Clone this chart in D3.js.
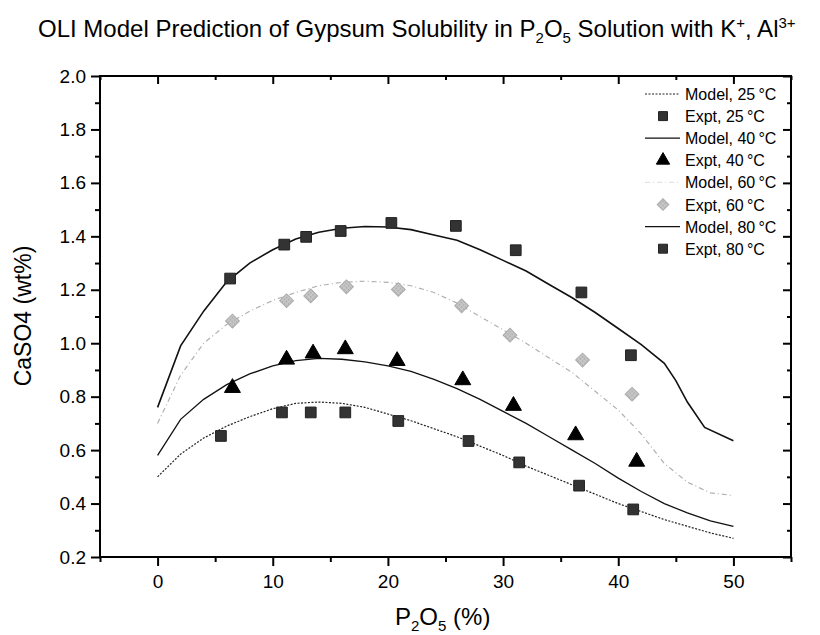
<!DOCTYPE html>
<html>
<head>
<meta charset="utf-8">
<script src="https://cdn.jsdelivr.net/npm/d3@7"></script>
<style>
  body { margin: 0; background: #fff; }
  text { font-family: "Liberation Sans", Arial, sans-serif; fill: #000; }
</style>
</head>
<body>
<div id="chart"></div>
<script>
// model curves (x = P2O5 %, y = CaSO4 wt%)
const modelX = [0, 2, 4, 6, 8, 10, 12, 14, 16, 18, 20, 22, 24, 26, 28, 30, 32, 34, 36, 38, 40, 42, 44, 46, 48, 50];
const model25 = [0.50, 0.585, 0.645, 0.69, 0.725, 0.755, 0.775, 0.78, 0.775, 0.76, 0.735, 0.71, 0.68, 0.65, 0.615, 0.58, 0.54, 0.505, 0.47, 0.435, 0.40, 0.37, 0.34, 0.315, 0.29, 0.27];
const model40 = [0.58, 0.715, 0.79, 0.845, 0.885, 0.915, 0.935, 0.943, 0.94, 0.93, 0.915, 0.895, 0.865, 0.83, 0.79, 0.745, 0.70, 0.65, 0.60, 0.55, 0.495, 0.445, 0.40, 0.365, 0.335, 0.315];
const model60 = [0.70, 0.88, 1.00, 1.07, 1.12, 1.16, 1.19, 1.215, 1.228, 1.232, 1.228, 1.215, 1.19, 1.15, 1.10, 1.05, 1.00, 0.945, 0.89, 0.82, 0.75, 0.66, 0.55, 0.48, 0.44, 0.43];
const model80X = [0, 2, 4, 6, 8, 10, 12, 14, 16, 18, 20, 22, 24, 26, 28, 30, 32, 34, 36, 38, 40, 42, 44, 45, 46, 47.5, 50];
const model80 = [0.76, 0.99, 1.12, 1.23, 1.30, 1.35, 1.39, 1.415, 1.43, 1.437, 1.435, 1.425, 1.405, 1.385, 1.35, 1.31, 1.27, 1.22, 1.17, 1.115, 1.055, 0.995, 0.925, 0.86, 0.78, 0.685, 0.635];

// experimental points
const expt25X = [5.5, 10.8, 13.3, 16.3, 20.9, 27.0, 31.4, 36.6, 41.3];
const expt25 = [0.653, 0.741, 0.741, 0.741, 0.709, 0.634, 0.554, 0.467, 0.378];
const expt40X = [6.5, 11.2, 13.5, 16.3, 20.8, 26.5, 30.9, 36.3, 41.6];
const expt40 = [0.833, 0.939, 0.962, 0.978, 0.934, 0.862, 0.766, 0.656, 0.557];
const expt60X = [6.5, 11.2, 13.3, 16.4, 20.9, 26.4, 30.6, 36.9, 41.2];
const expt60 = [1.083, 1.159, 1.177, 1.211, 1.201, 1.14, 1.03, 0.937, 0.809];
const expt80X = [6.3, 11.0, 12.9, 15.9, 20.3, 25.9, 31.1, 36.8, 41.1];
const expt80 = [1.242, 1.369, 1.398, 1.42, 1.45, 1.439, 1.348, 1.19, 0.955];

const legendLabels = ["Model, 25\u2009\u00b0C", "Expt, 25\u2009\u00b0C", "Model, 40\u2009\u00b0C", "Expt, 40\u2009\u00b0C",
                      "Model, 60\u2009\u00b0C", "Expt, 60\u2009\u00b0C", "Model, 80\u2009\u00b0C", "Expt, 80\u2009\u00b0C"];

const width = 820, height = 635;
const plotLeft = 100, plotRight = 791, plotTop = 76, plotBottom = 557;

const svg = d3.select("#chart").append("svg")
    .attr("width", width)
    .attr("height", height);

const x = d3.scaleLinear().domain([-5, 55]).range([plotLeft, plotRight]);
const y = d3.scaleLinear().domain([0.2, 2.0]).range([plotBottom, plotTop]);

// hatch pattern for the grey diamonds
const defs = svg.append("defs");
const pat = defs.append("pattern")
    .attr("id", "hatch")
    .attr("width", 3).attr("height", 3)
    .attr("patternUnits", "userSpaceOnUse");
pat.append("rect").attr("width", 3).attr("height", 3).attr("fill", "#c8c8c8");
pat.append("rect").attr("width", 1.5).attr("height", 1.5).attr("fill", "#a8a8a8");

// title
const title = svg.append("text")
    .attr("x", 38).attr("y", 37)
    .attr("font-size", 24);
title.append("tspan").text("OLI Model Prediction of Gypsum Solubility in P");
title.append("tspan").attr("font-size", 15).attr("dy", 6).text("2");
title.append("tspan").attr("dy", -6).text("O");
title.append("tspan").attr("font-size", 15).attr("dy", 6).text("5");
title.append("tspan").attr("dy", -6).text(" Solution with K");
title.append("tspan").attr("font-size", 15).attr("dy", -9).text("+");
title.append("tspan").attr("dy", 9).text(", Al");
title.append("tspan").attr("font-size", 15).attr("dy", -9).text("3+");

// axes
const xMajor = d3.range(0, 51, 10);
const xMinor = d3.range(-5, 56, 5).filter(d => !xMajor.includes(d));
const yMajor = d3.range(0.2, 2.01, 0.2).map(d => +d.toFixed(1));
const yMinor = d3.range(0.3, 2.0, 0.2).map(d => +d.toFixed(1));

function ticks(g) {
  g.select(".domain").remove();
  g.selectAll("line").attr("stroke-width", 2);
  g.selectAll("text").attr("font-size", 19).attr("font-family", "Liberation Sans, Arial, sans-serif");
}

svg.append("g")
    .attr("transform", `translate(0,${plotBottom})`)
    .call(d3.axisBottom(x).tickValues(xMajor).tickSize(9).tickPadding(9).tickFormat(d3.format("d")))
    .call(ticks);
svg.append("g")
    .attr("transform", `translate(0,${plotBottom})`)
    .call(d3.axisBottom(x).tickValues(xMinor).tickSize(5).tickFormat(""))
    .call(ticks);

svg.append("g")
    .attr("transform", `translate(${plotLeft},0)`)
    .call(d3.axisLeft(y).tickValues(yMajor).tickSize(9).tickPadding(5).tickFormat(d3.format(".1f")))
    .call(ticks);
svg.append("g")
    .attr("transform", `translate(${plotLeft},0)`)
    .call(d3.axisLeft(y).tickValues(yMinor).tickSize(5).tickFormat(""))
    .call(ticks);

// top and right: inward ticks
svg.append("g")
    .attr("transform", `translate(0,${plotTop})`)
    .call(d3.axisBottom(x).tickValues(xMajor).tickSize(8).tickFormat(""))
    .call(ticks);
svg.append("g")
    .attr("transform", `translate(0,${plotTop})`)
    .call(d3.axisBottom(x).tickValues(xMinor).tickSize(4).tickFormat(""))
    .call(ticks);
svg.append("g")
    .attr("transform", `translate(${plotRight},0)`)
    .call(d3.axisLeft(y).tickValues(yMajor).tickSize(8).tickFormat(""))
    .call(ticks);
svg.append("g")
    .attr("transform", `translate(${plotRight},0)`)
    .call(d3.axisLeft(y).tickValues(yMinor).tickSize(4).tickFormat(""))
    .call(ticks);

// frame
svg.append("rect")
    .attr("x", plotLeft).attr("y", plotTop)
    .attr("width", plotRight - plotLeft).attr("height", plotBottom - plotTop)
    .attr("fill", "none").attr("stroke", "#000").attr("stroke-width", 2);

// axis labels
const xl = svg.append("text")
    .attr("x", 395).attr("y", 625)
    .attr("font-size", 24);
xl.append("tspan").text("P");
xl.append("tspan").attr("font-size", 15).attr("dy", 6).text("2");
xl.append("tspan").attr("dy", -6).text("O");
xl.append("tspan").attr("font-size", 15).attr("dy", 6).text("5");
xl.append("tspan").attr("dy", -6).text(" (%)");

svg.append("text")
    .attr("transform", `translate(31,316) rotate(-90)`)
    .attr("text-anchor", "middle")
    .attr("font-size", 23)
    .text("CaSO4 (wt%)");

// model lines
const line = d3.line().x(d => x(d[0])).y(d => y(d[1]));
const models = [
  {xs: modelX, ys: model25, stroke: "#222", width: 1.2, dash: "2,1.5"},
  {xs: modelX, ys: model40, stroke: "#111", width: 1.3, dash: null},
  {xs: modelX, ys: model60, stroke: "#b0b0b0", width: 1.2, dash: "5,3,1,3"},
  {xs: model80X, ys: model80, stroke: "#111", width: 1.6, dash: null}
];
models.forEach(m => {
  svg.append("path")
      .datum(m.xs.map((v, i) => [v, m.ys[i]]))
      .attr("d", line)
      .attr("fill", "none")
      .attr("stroke", m.stroke)
      .attr("stroke-width", m.width)
      .attr("stroke-dasharray", m.dash);
});

// markers (diamond = square turned 45 degrees)
const shapes = {square: d3.symbolSquare, triangle: d3.symbolTriangle, diamond: d3.symbolSquare};
const expts = [
  {xs: expt25X, ys: expt25, shape: "square", size: 115, rot: 0, fill: "#333", stroke: "#222"},
  {xs: expt40X, ys: expt40, shape: "triangle", size: 110, rot: 0, fill: "#000", stroke: "#000"},
  {xs: expt60X, ys: expt60, shape: "diamond", size: 95, rot: 45, fill: "url(#hatch)", stroke: "#aaa"},
  {xs: expt80X, ys: expt80, shape: "square", size: 115, rot: 0, fill: "#333", stroke: "#222"}
];
expts.forEach(e => {
  svg.append("g").selectAll("path")
      .data(e.xs.map((v, i) => [v, e.ys[i]]))
      .join("path")
      .attr("transform", d => `translate(${x(d[0])},${y(d[1])}) rotate(${e.rot})`)
      .attr("d", d3.symbol().type(shapes[e.shape]).size(e.size))
      .attr("fill", e.fill)
      .attr("stroke", e.stroke)
      .attr("stroke-width", 1);
});

// legend
const lg = svg.append("g");
legendLabels.forEach((label, i) => {
  const cy = 94 + i * 22.1;
  const k = Math.floor(i / 2);
  if (i % 2 === 0) {
    const m = models[k];
    lg.append("line")
        .attr("x1", 645).attr("x2", 680).attr("y1", cy).attr("y2", cy)
        .attr("stroke", k === 2 ? "#e2e2e2" : m.stroke)
        .attr("stroke-width", 1.2)
        .attr("stroke-dasharray", m.dash);
  } else {
    const e = expts[k];
    lg.append("path")
        .attr("transform", `translate(663,${cy}) rotate(${e.rot})`)
        .attr("d", d3.symbol().type(shapes[e.shape]).size(e.size * 0.7))
        .attr("fill", e.fill)
        .attr("stroke", e.stroke);
  }
  lg.append("text")
      .attr("x", 685).attr("y", cy + 6)
      .attr("font-size", 16)
      .text(label);
});
</script>
</body>
</html>
